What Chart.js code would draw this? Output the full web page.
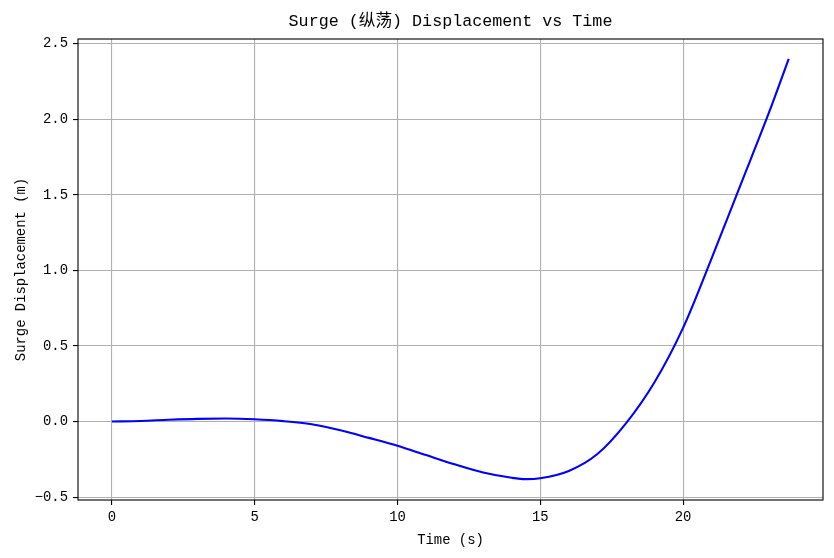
<!DOCTYPE html>
<html>
<head>
<meta charset="utf-8">
<script src="https://cdn.jsdelivr.net/npm/chart.js@4.4.1/dist/chart.umd.min.js"></script>
<style>
html,body{margin:0;padding:0;background:#fff;}
#wrap{width:834px;height:558px;position:relative;}
</style>
</head>
<body>
<div id="wrap"><canvas id="c" width="834" height="558"></canvas></div>
<script>
// ---- data ----
const timeS = [0, 1, 2, 3, 4, 5, 6, 7, 8, 9, 10, 11, 12, 13, 14, 14.5, 15, 16, 17, 18, 19, 20, 21, 22, 23, 23.7];
const surgeM = [0, 0.004, 0.012, 0.018, 0.020, 0.015, 0.003, -0.018, -0.058, -0.108, -0.160, -0.222, -0.283, -0.337, -0.372, -0.381, -0.375, -0.327, -0.215, -0.012, 0.26, 0.62, 1.08, 1.56, 2.04, 2.40];
const xTicks = [0, 5, 10, 15, 20];
const yTicks = [-0.5, 0, 0.5, 1.0, 1.5, 2.0, 2.5];
const titleText = 'Surge (纵荡) Displacement vs Time';
const xLabel = 'Time (s)';
const yLabel = 'Surge Displacement (m)';

const FONT = "'Liberation Mono', 'Noto Sans CJK SC', monospace";

const frame = {
  id: 'frame',
  afterDatasetsDraw(chart) {
    const a = chart.chartArea, ctx = chart.ctx;
    ctx.save();
    ctx.strokeStyle = '#000';
    ctx.lineWidth = 1.1;
    ctx.strokeRect(a.left, a.top, a.right - a.left, a.bottom - a.top);
    ctx.restore();
  }
};

const axTitle = {
  id: 'axTitle',
  afterDraw(chart) {
    const a = chart.chartArea, ctx = chart.ctx;
    ctx.save();
    ctx.fillStyle = '#000';
    ctx.font = '16.7px ' + FONT;
    ctx.textAlign = 'center';
    ctx.textBaseline = 'middle';
    ctx.fillText(titleText, (a.left + a.right) / 2, 22);
    ctx.restore();
  }
};

new Chart(document.getElementById('c'), {
  type: 'line',
  data: {
    datasets: [{
      data: timeS.map((t, i) => ({x: t, y: surgeM[i]})),
      borderColor: '#0000ff',
      borderWidth: 2.1,
      pointRadius: 0,
      fill: false,
      cubicInterpolationMode: 'monotone'
    }]
  },
  options: {
    responsive: false,
    animation: false,
    devicePixelRatio: 1,
    layout: {padding: {left: 0, right: 11, top: 39, bottom: 0}},
    plugins: {
      legend: {display: false},
      tooltip: {enabled: false},
      title: {display: false}
    },
    scales: {
      x: {
        type: 'linear',
        min: -1.186,
        max: 24.9,
        afterBuildTicks(s) { s.ticks = xTicks.map(v => ({value: v})); },
        afterFit(s) { s.height = 58; },
        grid: {color: '#b0b0b0', lineWidth: 1.1, drawTicks: true, tickLength: 5, tickColor: '#000', tickWidth: 1.1},
        border: {display: false},
        ticks: {color: '#000', font: {family: FONT, size: 13.9}, padding: 4, maxRotation: 0, callback: v => String(v)},
        title: {display: true, text: xLabel, color: '#000', font: {family: FONT, size: 13.9}, padding: {top: 0, bottom: 9}}
      },
      y: {
        type: 'linear',
        min: -0.519,
        max: 2.531,
        afterBuildTicks(s) { s.ticks = yTicks.map(v => ({value: v})); },
        afterFit(s) { s.width = 78; },
        grid: {color: '#b0b0b0', lineWidth: 1.1, drawTicks: true, tickLength: 5, tickColor: '#000', tickWidth: 1.1},
        border: {display: false},
        ticks: {color: '#000', font: {family: FONT, size: 13.9}, padding: 5,
          callback: v => (v < 0 ? '\u2212' : '') + Math.abs(v).toFixed(1)},
        title: {display: true, text: yLabel, color: '#000', font: {family: FONT, size: 13.9}, padding: {top: 13, bottom: 0}}
      }
    }
  },
  plugins: [frame, axTitle]
});
</script>
</body>
</html>
